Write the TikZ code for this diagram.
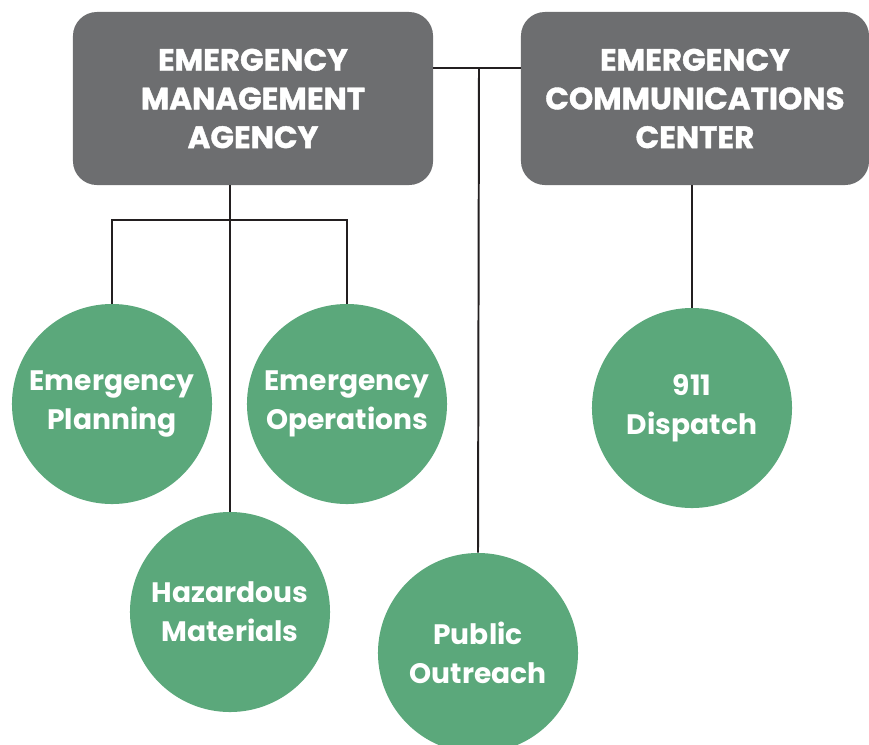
\documentclass[tikz,border=0pt]{standalone}
\usepackage{fontspec}
\setmainfont{Poppins}
\newfontfamily\heavyfont{Poppins}[BoldFeatures={FakeBold=1.2}]
\usepackage{xcolor}
\usepackage{tikz}
\usetikzlibrary{positioning,calc}

\definecolor{boxgray}{HTML}{6D6E70}
\definecolor{unitgreen}{HTML}{5BA87B}
\definecolor{linkdark}{HTML}{231F20}

\tikzset{
    agency/.style={rectangle, rounded corners=0.6cm, fill=boxgray, text=white,
        minimum width=9cm, minimum height=4.325cm, align=center,
        font=\heavyfont\bfseries\fontsize{22}{27.5}\selectfont},
    unit/.style={circle, fill=unitgreen, text=white, minimum size=5cm,
        inner sep=0pt, align=center, font=\bfseries\fontsize{20}{27.5}\selectfont},
    link/.style={draw=linkdark, line width=1.4pt}
}

\begin{document}
\begin{tikzpicture}[x=0.025cm, y=-0.025cm]
    \useasboundingbox (0,0) rectangle (869,744);
    \clip (0,0) rectangle (869,744);

    % Agencies
    \node[agency] (ema) at (253,98.5) {EMERGENCY\\MANAGEMENT\\AGENCY};
    \node[agency, minimum width=8.7cm] (ecc) at (695,98.5) {EMERGENCY\\COMMUNICATIONS\\CENTER};

    % Units
    \node[unit] (plan) at (112,404) {Emergency\\Planning};
    \node[unit] (ops) at (347,404) {Emergency\\Operations};
    \node[unit] (haz) at (230,612) {Hazardous\\Materials};
    \node[unit] (outreach) at (478,653) {Public\\Outreach};
    \node[unit] (dispatch) at (692,408) {911\\Dispatch};

    % Links
    \coordinate (hub) at (479,68);
    \coordinate (split) at (230,220);
    \draw[link] (ema.east |- hub) -- (ecc.west |- hub);
    \draw[link] (hub) -- (outreach.north);
    \draw[link] (haz.north |- ema.south) -- (haz.north);
    \draw[link] (plan.north) |- (split) -| (ops.north);
    \draw[link] (dispatch.north |- ecc.south) -- (dispatch.north);
\end{tikzpicture}
\end{document}
